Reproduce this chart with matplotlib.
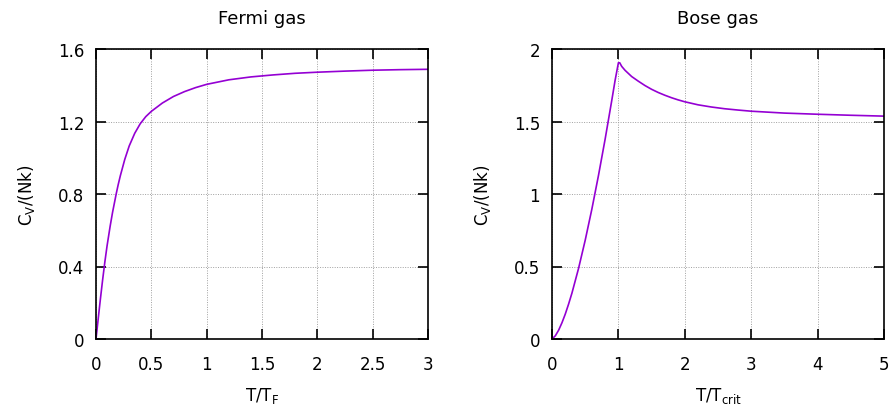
import matplotlib
matplotlib.use("Agg")
import matplotlib.pyplot as plt
from matplotlib.ticker import FixedLocator, FuncFormatter

plt.rcParams['font.family'] = ['DejaVu Sans']
plt.rcParams['mathtext.default'] = 'regular'

# Fermi gas: C_V/(Nk) vs T/T_F
fermi_t = [0.0, 0.02, 0.04, 0.06, 0.08, 0.10, 0.128, 0.15, 0.183, 0.20, 0.22,
           0.26, 0.30, 0.35, 0.40, 0.45, 0.50, 0.60, 0.70, 0.80, 0.90, 1.00,
           1.20, 1.40, 1.60, 1.80, 2.00, 2.25, 2.50, 2.75, 3.00]
fermi_cv = [0.0, 0.112, 0.222, 0.327, 0.425, 0.514, 0.623, 0.700, 0.802, 0.850, 0.901,
            0.991, 1.065, 1.135, 1.188, 1.227, 1.256, 1.302, 1.338, 1.365, 1.387, 1.405,
            1.430, 1.446, 1.457, 1.466, 1.472, 1.478, 1.483, 1.486, 1.488]

# Bose gas: C_V/(Nk) vs T/T_crit
bose_t = [0.0, 0.05, 0.1, 0.15, 0.2, 0.25, 0.3, 0.4, 0.5, 0.6, 0.7, 0.8, 0.9, 0.95, 1.0,
          1.02, 1.05, 1.1, 1.2, 1.3, 1.4, 1.5, 1.6, 1.7, 1.8, 1.9, 2.0,
          2.2, 2.4, 2.6, 2.8, 3.0, 3.5, 4.0, 4.5, 5.0]
bose_cv = [0.0, 0.022, 0.061, 0.112, 0.172, 0.241, 0.316, 0.487, 0.681, 0.895, 1.128, 1.378, 1.645, 1.783, 1.905,
           1.905, 1.880, 1.853, 1.810, 1.778, 1.748, 1.722, 1.700, 1.681, 1.664, 1.649, 1.636,
           1.615, 1.600, 1.588, 1.579, 1.571, 1.558, 1.550, 1.543, 1.537]

fermi_xticks = [0, 0.5, 1, 1.5, 2, 2.5, 3]
fermi_yticks = [0, 0.4, 0.8, 1.2, 1.6]
bose_xticks = [0, 1, 2, 3, 4, 5]
bose_yticks = [0, 0.5, 1, 1.5, 2]

LINE_COLOR = '#9400d3'

fig = plt.figure(figsize=(8.95, 4.14), dpi=100)
ax1 = fig.add_axes([96/895, 74/414, 332/895, 290/414])
ax2 = fig.add_axes([552/895, 74/414, 332/895, 290/414])

fmt = FuncFormatter(lambda v, p: ('%g' % v))

def style(ax, xticks, yticks, xlim, ylim, title, xlabel):
    ax.set_xlim(*xlim)
    ax.set_ylim(*ylim)
    ax.xaxis.set_major_locator(FixedLocator(xticks))
    ax.yaxis.set_major_locator(FixedLocator(yticks))
    ax.xaxis.set_major_formatter(fmt)
    ax.yaxis.set_major_formatter(fmt)
    ax.tick_params(direction='in', length=7, width=1.2, top=True, right=True,
                   labelsize=12, colors='black')
    ax.tick_params(axis='y', pad=8.5)
    ax.tick_params(axis='x', pad=11.5)
    ax.grid(True, color='#a0a0a0', linestyle=(0, (1, 1.5)), linewidth=0.7)
    for s in ax.spines.values():
        s.set_linewidth(1.2)
        s.set_zorder(5)
    ax.set_title(title, fontsize=13, pad=19)
    ax.set_xlabel(xlabel, fontsize=12, labelpad=9)
    ax.set_ylabel('C$_V$/(Nk)', fontsize=12, labelpad=15)

ax1.plot(fermi_t, fermi_cv, color=LINE_COLOR, linewidth=1.2, zorder=4,
         solid_joinstyle='round')
style(ax1, fermi_xticks, fermi_yticks, (0, 3), (0, 1.6), 'Fermi gas', 'T/T$_F$')

ax2.plot(bose_t, bose_cv, color=LINE_COLOR, linewidth=1.2, zorder=4,
         solid_joinstyle='round')
style(ax2, bose_xticks, bose_yticks, (0, 5), (0, 2), 'Bose gas', 'T/T$_{crit}$')

fig.savefig('out.png', dpi=100)
